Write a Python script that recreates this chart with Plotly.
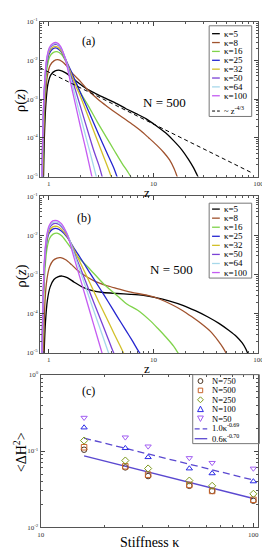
import plotly.graph_objects as go

W, H = 270, 550
def px(x): return x / W
def py(y): return 1 - y / H

SERIF = "Liberation Serif"

# ---------------- Panel (a): rho(z), N = 500 ----------------
za_k5 = [0.89, 0.91, 0.94, 0.98, 1.05, 1.15, 1.28, 1.45, 1.65, 1.9, 2.3, 2.8, 3.5, 4.5, 5.5, 7.0, 8.5, 10.5, 13, 15.5, 18.5, 21.5, 24, 26, 27.5]
ra_k5 = [8e-6, 1.2e-4, 8e-4, 2.4e-3, 4.3e-3, 5.4e-3, 5.6e-3, 4.8e-3, 3.7e-3, 2.7e-3, 1.85e-3, 1.4e-3, 1.05e-3, 7.6e-4, 5.6e-4, 4.1e-4, 3.1e-4, 2.1e-4, 1.35e-4, 8.5e-5, 5e-5, 2.8e-5, 1.7e-5, 1.1e-5, 8e-6]
za_k8 = [0.88, 0.9, 0.93, 0.97, 1.03, 1.12, 1.22, 1.35, 1.5, 1.7, 2.0, 2.35, 3.0, 3.6, 4.5, 5.4, 6.5, 7.5, 9.0, 10.7, 12.5, 14.2, 15.7, 17.0]
ra_k8 = [8e-6, 1.5e-4, 1.2e-3, 4e-3, 7.5e-3, 9.8e-3, 1.05e-2, 9.3e-3, 7e-3, 4.5e-3, 2.9e-3, 1.75e-3, 9.5e-4, 6.5e-4, 4.2e-4, 3.0e-4, 2.1e-4, 1.55e-4, 1.0e-4, 6.5e-5, 4.2e-5, 2.7e-5, 1.6e-5, 9e-6]
za_k16 = [0.87, 0.89, 0.92, 0.96, 1.02, 1.1, 1.2, 1.32, 1.5, 1.75, 2.0, 2.4, 2.9, 3.5, 4.2, 5.0, 5.8, 6.5]
ra_k16 = [8e-6, 1.5e-4, 1.5e-3, 6e-3, 1.25e-2, 1.6e-2, 1.7e-2, 1.45e-2, 8e-3, 3.2e-3, 1.5e-3, 6.5e-4, 2.6e-4, 1.1e-4, 4.8e-5, 2.2e-5, 1.2e-5, 7e-6]
za_k25 = [0.86, 0.88, 0.91, 0.95, 1.01, 1.09, 1.19, 1.3, 1.45, 1.6, 1.8, 2.0, 2.4, 3.0, 3.6, 4.2, 4.6]
ra_k25 = [8e-6, 1.5e-4, 1.6e-3, 7e-3, 1.5e-2, 2.0e-2, 2.1e-2, 1.75e-2, 1.05e-2, 6e-3, 2.9e-3, 1.5e-3, 4.9e-4, 1.2e-4, 4e-5, 1.6e-5, 8e-6]
za_k32 = [0.86, 0.88, 0.91, 0.95, 1.01, 1.09, 1.19, 1.3, 1.45, 1.6, 1.8, 2.0, 2.5, 3.2, 3.7, 4.05]
ra_k32 = [8e-6, 1.6e-4, 1.8e-3, 8e-3, 1.7e-2, 2.2e-2, 2.3e-2, 1.85e-2, 1.05e-2, 5.3e-3, 2.3e-3, 1.2e-3, 2.5e-4, 4.4e-5, 1.6e-5, 8e-6]
za_k50 = [0.86, 0.88, 0.91, 0.95, 1.01, 1.09, 1.19, 1.3, 1.45, 1.6, 1.8, 2.2, 2.7, 3.0, 3.3]
ra_k50 = [8e-6, 1.7e-4, 2e-3, 9e-3, 1.9e-2, 2.5e-2, 2.6e-2, 2.1e-2, 1.1e-2, 4.5e-3, 1.7e-3, 2.8e-4, 4.5e-5, 2e-5, 8e-6]
za_k64 = [0.86, 0.88, 0.91, 0.95, 1.01, 1.09, 1.19, 1.3, 1.45, 1.6, 1.8, 2.2, 2.5, 2.7, 2.9]
ra_k64 = [8e-6, 1.8e-4, 2.1e-3, 9.5e-3, 2.0e-2, 2.6e-2, 2.75e-2, 2.2e-2, 1.05e-2, 3.9e-3, 1.1e-3, 1.4e-4, 3.8e-5, 1.7e-5, 8e-6]
za_k100 = [0.86, 0.88, 0.91, 0.95, 1.01, 1.09, 1.19, 1.3, 1.45, 1.6, 1.75, 2.0, 2.2, 2.4, 2.6]
ra_k100 = [8e-6, 2e-4, 2.3e-3, 1.0e-2, 2.1e-2, 2.75e-2, 2.9e-2, 2.3e-2, 1.0e-2, 3.0e-3, 1.0e-3, 2.0e-4, 6.8e-5, 2.4e-5, 9e-6]
z_guide = [0.825, 87]
rho_guide = [6.5e-3, 1.24e-5]

# ---------------- Panel (b): rho(z), N = 500 ----------------
zb_k5 = [0.90, 0.93, 0.97, 1.03, 1.12, 1.22, 1.34, 1.5, 1.75, 2.1, 2.6, 3.3, 4.5, 6.0, 8.0, 10.5, 14, 19, 25, 33, 42, 52, 62, 70, 76, 80, 83]
rb_k5 = [8e-6, 6e-5, 2.2e-4, 4.8e-4, 7.5e-4, 8.8e-4, 9.2e-4, 8.4e-4, 6.4e-4, 4.8e-4, 3.9e-4, 3.5e-4, 3.3e-4, 3.15e-4, 2.95e-4, 2.6e-4, 2.15e-4, 1.65e-4, 1.2e-4, 8.3e-5, 5.7e-5, 3.8e-5, 2.6e-5, 1.8e-5, 1.25e-5, 9e-6, 7e-6]
zb_k8 = [0.89, 0.92, 0.96, 1.02, 1.1, 1.2, 1.3, 1.45, 1.65, 1.9, 2.3, 2.8, 3.6, 4.5, 5.5, 7.0, 9.0, 11.5, 15, 19, 23, 28, 35, 41, 46, 50, 52]
rb_k8 = [8e-6, 2e-4, 7.5e-4, 1.6e-3, 2.3e-3, 2.65e-3, 2.7e-3, 2.4e-3, 1.8e-3, 1.25e-3, 8.8e-4, 6.6e-4, 5.2e-4, 4.4e-4, 3.8e-4, 3.3e-4, 2.9e-4, 2.35e-4, 1.7e-4, 1.2e-4, 8.5e-5, 5.8e-5, 3.5e-5, 2.1e-5, 1.35e-5, 9e-6, 7e-6]
zb_k16 = [0.87, 0.89, 0.92, 0.96, 1.02, 1.1, 1.2, 1.32, 1.5, 1.8, 2.4, 3.4, 4.5, 5.6, 7.0, 9.1, 11, 13, 15.5, 17.5]
rb_k16 = [8e-6, 1.5e-4, 1.3e-3, 4.5e-3, 8.5e-3, 1.08e-2, 1.15e-2, 1.0e-2, 6.5e-3, 3.3e-3, 1.5e-3, 5.5e-4, 2.9e-4, 1.75e-4, 1.25e-4, 7e-5, 4.2e-5, 2.6e-5, 1.5e-5, 9e-6]
zb_k25 = [0.86, 0.88, 0.91, 0.95, 1.01, 1.09, 1.2, 1.32, 1.5, 1.75, 2.0, 2.5, 3.0, 3.7, 4.5, 5.4, 6.3, 7.2, 8.1]
rb_k25 = [8e-6, 1.3e-4, 1.6e-3, 6e-3, 1.15e-2, 1.45e-2, 1.5e-2, 1.3e-2, 9e-3, 4.6e-3, 2.7e-3, 1.05e-3, 4.9e-4, 2e-4, 8.5e-5, 3.9e-5, 2e-5, 1.1e-5, 7e-6]
zb_k32 = [0.86, 0.88, 0.91, 0.95, 1.01, 1.09, 1.2, 1.32, 1.5, 1.75, 2.0, 2.5, 3.0, 3.6, 4.2, 4.8, 5.5]
rb_k32 = [8e-6, 1.4e-4, 1.8e-3, 6.8e-3, 1.3e-2, 1.65e-2, 1.7e-2, 1.45e-2, 9.5e-3, 4.2e-3, 2.0e-3, 5.7e-4, 2.0e-4, 7.4e-5, 3.1e-5, 1.5e-5, 7e-6]
zb_k50 = [0.86, 0.88, 0.91, 0.95, 1.01, 1.09, 1.2, 1.32, 1.5, 1.75, 2.0, 2.5, 3.0, 3.5, 4.0, 4.4]
rb_k50 = [8e-6, 1.6e-4, 2e-3, 7.8e-3, 1.5e-2, 1.95e-2, 2.0e-2, 1.7e-2, 1.05e-2, 3.6e-3, 1.5e-3, 3.2e-4, 9.3e-5, 3.3e-5, 1.3e-5, 7e-6]
zb_k64 = [0.86, 0.88, 0.91, 0.95, 1.01, 1.09, 1.2, 1.32, 1.5, 1.75, 2.0, 2.5, 3.0, 3.5, 3.9]
rb_k64 = [8e-6, 1.7e-4, 2.2e-3, 8.5e-3, 1.65e-2, 2.15e-2, 2.2e-2, 1.85e-2, 1.1e-2, 3.3e-3, 1.2e-3, 2.1e-4, 5.2e-5, 1.6e-5, 7e-6]
zb_k100 = [0.86, 0.88, 0.91, 0.95, 1.01, 1.09, 1.2, 1.32, 1.5, 1.75, 2.0, 2.5, 2.9, 3.35]
rb_k100 = [8e-6, 1.8e-4, 2.4e-3, 9e-3, 1.8e-2, 2.35e-2, 2.4e-2, 2.0e-2, 1.05e-2, 2.6e-3, 7.8e-4, 1.0e-4, 2.6e-5, 7e-6]

# ---------------- Panel (c): <dH^2> vs stiffness ----------------
kappa = [16, 25, 32, 50, 64, 100]
dh_N750 = [0.104, 0.061, 0.047, 0.035, 0.030, 0.0223]
dh_N500 = [0.112, 0.063, 0.049, 0.036, 0.030, 0.023]
dh_N250 = [0.137, 0.075, 0.059, 0.041, 0.035, 0.0275]
dh_N100 = [0.203, 0.109, 0.083, 0.059, 0.051, 0.040]
dh_N50 = [0.273, 0.151, 0.115, 0.081, 0.070, 0.059]
fit_kappa = [16, 100]
fit_dashed = [0.1476, 0.0417]   # 1.0 k^-0.69
fit_solid = [0.0862, 0.0239]    # 0.6 k^-0.70

kappa_labels = ["κ=5", "κ=8", "κ=16", "κ=25", "κ=32", "κ=50", "κ=64", "κ=100"]
kappa_colors = ["#000000", "#a0522d", "#7fd34a", "#2525d0", "#d2c02a", "#7a42d6", "#a6d8ea", "#c45cf2"]

panel_a = [(za_k5, ra_k5), (za_k8, ra_k8), (za_k16, ra_k16), (za_k25, ra_k25),
           (za_k32, ra_k32), (za_k50, ra_k50), (za_k64, ra_k64), (za_k100, ra_k100)]
panel_b = [(zb_k5, rb_k5), (zb_k8, rb_k8), (zb_k16, rb_k16), (zb_k25, rb_k25),
           (zb_k32, rb_k32), (zb_k50, rb_k50), (zb_k64, rb_k64), (zb_k100, rb_k100)]

fig = go.Figure()
for (z, r), lab, col in zip(panel_a, kappa_labels, kappa_colors):
    fig.add_trace(go.Scatter(x=z, y=r, mode="lines", name=lab, xaxis="x", yaxis="y",
                             line=dict(color=col, width=1.3, shape="spline", smoothing=0.8)))
fig.add_trace(go.Scatter(x=z_guide, y=rho_guide, mode="lines", name="~ z^-4/3", xaxis="x", yaxis="y",
                         line=dict(color="#000000", width=1, dash="4px,3px")))
for (z, r), lab, col in zip(panel_b, kappa_labels, kappa_colors):
    fig.add_trace(go.Scatter(x=z, y=r, mode="lines", name=lab, xaxis="x2", yaxis="y2",
                             line=dict(color=col, width=1.3, shape="spline", smoothing=0.8)))

N_series = [("N=750", dh_N750, "circle-open", "#4a3422"),
            ("N=500", dh_N500, "square-open", "#c8642c"),
            ("N=250", dh_N250, "diamond-open", "#7d9a1e"),
            ("N=100", dh_N100, "triangle-up-open", "#2a2ae6"),
            ("N=50", dh_N50, "triangle-down-open", "#a25ef2")]
fit_col = "#5a48d0"
fig.add_trace(go.Scatter(x=fit_kappa, y=fit_dashed, mode="lines", name="1.0κ^-0.69", xaxis="x3", yaxis="y3",
                         line=dict(color=fit_col, width=1.3, dash="7px,4px")))
fig.add_trace(go.Scatter(x=fit_kappa, y=fit_solid, mode="lines", name="0.6κ^-0.70", xaxis="x3", yaxis="y3",
                         line=dict(color=fit_col, width=1.3)))
for lab, vals, sym, col in N_series:
    fig.add_trace(go.Scatter(x=kappa, y=vals, mode="markers", name=lab, xaxis="x3", yaxis="y3",
                             marker=dict(symbol=sym, size=5.5, color=col, line=dict(width=1, color=col))))

# ---------------- axes ----------------
def log_axis(domain, rng, tv, tt, minor_vals, anchor):
    return dict(type="log", domain=domain, range=rng, anchor=anchor,
                tickmode="array", tickvals=tv, ticktext=tt,
                ticks="inside", ticklen=4, tickwidth=1, tickcolor="#444",
                showline=True, linecolor="#555", linewidth=1, mirror="allticks",
                showgrid=False, zeroline=False,
                tickfont=dict(family=SERIF, size=7, color="#333"),
                minor=dict(tickmode="array", tickvals=minor_vals, ticks="inside",
                           ticklen=2, tickcolor="#555", showgrid=False))

z_minor = [0.9] + [m for m in range(2, 10)] + [10 * m for m in range(2, 10)]
rho_minor = [m * 10.0 ** e for e in range(-5, -1) for m in range(2, 10)]
k_minor = [10 * m for m in range(2, 10)]
dh_minor = [m * 10.0 ** e for e in (-2, -1) for m in range(2, 10)]
exp_txt = lambda e: "10<sup>%d</sup>" % e

xdom = [px(30), px(256)]
fig.update_layout(
    width=W, height=H, margin=dict(l=0, r=0, t=0, b=0),
    paper_bgcolor="white", plot_bgcolor="white", showlegend=False,
    xaxis=log_axis(xdom, [-0.0835, 2.0], [1, 10, 100], ["1", "10", "100"], z_minor, "y"),
    yaxis=log_axis([py(167), py(10)], [-5, -1], [1e-5, 1e-4, 1e-3, 1e-2, 1e-1],
                   [exp_txt(e) for e in range(-5, 0)], rho_minor, "x"),
    xaxis2=log_axis(xdom, [-0.0835, 2.0], [1, 10, 100], ["1", "10", "100"], z_minor, "y2"),
    yaxis2=log_axis([py(346), py(187)], [-5, -1], [1e-5, 1e-4, 1e-3, 1e-2, 1e-1],
                    [exp_txt(e) for e in range(-5, 0)], rho_minor, "x2"),
    xaxis3=log_axis([px(30.7), px(256)], [1, 2.024], [10, 100], ["10", "100"], k_minor, "y3"),
    yaxis3=log_axis([py(523), py(368)], [-2, 0], [0.01, 0.1, 1],
                    [exp_txt(e) for e in (-2, -1, 0)], dh_minor, "x3"),
)

# ---------------- text ----------------
ann = []
def text(x, y, s, size, angle=0, xanchor="center"):
    ann.append(dict(x=px(x), y=py(y), xref="paper", yref="paper", text=s, showarrow=False,
                    textangle=angle, xanchor=xanchor, yanchor="middle",
                    font=dict(family=SERIF, size=size, color="black")))

text(80, 29, "(a)", 12)
text(159, 92, "N = 500", 13)
text(10, 90, "ρ(<i>z</i>)", 15, angle=-90)
text(141, 183, "z", 13)
text(76, 209, "(b)", 12)
text(166, 261, "N = 500", 13)
text(10, 268, "ρ(<i>z</i>)", 15, angle=-90)
text(141, 362, "z", 13)
text(80, 385, "(c)", 12)
text(10, 447, "&lt;ΔH<sup>2</sup>&gt;", 14, angle=-90)
text(143, 538, "Stiffness κ", 14)

shapes = []
def seg(x0, x1, y, col, dash="solid", width=1.3):
    shapes.append(dict(type="line", xref="paper", yref="paper", x0=px(x0), x1=px(x1), y0=py(y), y1=py(y),
                       line=dict(color=col, width=width, dash=dash)))
def box(x0, x1, y0, y1):
    shapes.append(dict(type="rect", xref="paper", yref="paper", x0=px(x0), x1=px(x1), y0=py(y1), y1=py(y0),
                       line=dict(color="#777", width=1), fillcolor="rgba(255,255,255,0)", layer="above"))

# legend (a)
box(205, 249, 14, 106)
for i, (lab, col) in enumerate(zip(kappa_labels, kappa_colors)):
    y = 22 + i * 9.0
    seg(208, 216, y, col)
    text(218, y, lab, 9, xanchor="left")
seg(208, 216, 100.5, "#000", dash="3px,2px", width=1)
text(218, 100, "~ z<sup>-4/3</sup>", 8.5, xanchor="left")

# legend (b)
box(205, 249, 194, 270)
for i, (lab, col) in enumerate(zip(kappa_labels, kappa_colors)):
    y = 200 + i * 9.2
    seg(208, 216, y, col)
    text(218, y, lab, 9, xanchor="left")

# legend (c)
box(188, 257, 368, 438)
rows = [374.5, 384, 393.5, 403, 412.5]
cx = 196
def P(x, y): return "%.5f,%.5f" % (px(x), py(y))
for (lab, vals, sym, col), y in zip(N_series, rows):
    if sym == "circle-open":
        shapes.append(dict(type="circle", xref="paper", yref="paper", x0=px(cx - 2.5), x1=px(cx + 2.5),
                           y0=py(y + 2.5), y1=py(y - 2.5), line=dict(color=col, width=1)))
    elif sym == "square-open":
        shapes.append(dict(type="rect", xref="paper", yref="paper", x0=px(cx - 2.3), x1=px(cx + 2.3),
                           y0=py(y + 2.3), y1=py(y - 2.3), line=dict(color=col, width=1)))
    elif sym == "diamond-open":
        path = "M%s L%s L%s L%s Z" % (P(cx, y - 3), P(cx + 3, y), P(cx, y + 3), P(cx - 3, y))
        shapes.append(dict(type="path", xref="paper", yref="paper", path=path, line=dict(color=col, width=1)))
    elif sym == "triangle-up-open":
        path = "M%s L%s L%s Z" % (P(cx - 3, y + 2.5), P(cx + 3, y + 2.5), P(cx, y - 3))
        shapes.append(dict(type="path", xref="paper", yref="paper", path=path, line=dict(color=col, width=1)))
    else:
        path = "M%s L%s L%s Z" % (P(cx - 3, y - 2.5), P(cx + 3, y - 2.5), P(cx, y + 3))
        shapes.append(dict(type="path", xref="paper", yref="paper", path=path, line=dict(color=col, width=1)))
    text(206, y, lab, 8.5, xanchor="left")
seg(190, 203, 423, fit_col, dash="5px,3px")
text(206, 422, "1.0κ<sup>-0.69</sup>", 8.5, xanchor="left")
seg(190, 203, 433, fit_col)
text(206, 433, "0.6κ<sup>-0.70</sup>", 8.5, xanchor="left")

fig.update_layout(annotations=ann, shapes=shapes)
fig.write_html("out.html")
